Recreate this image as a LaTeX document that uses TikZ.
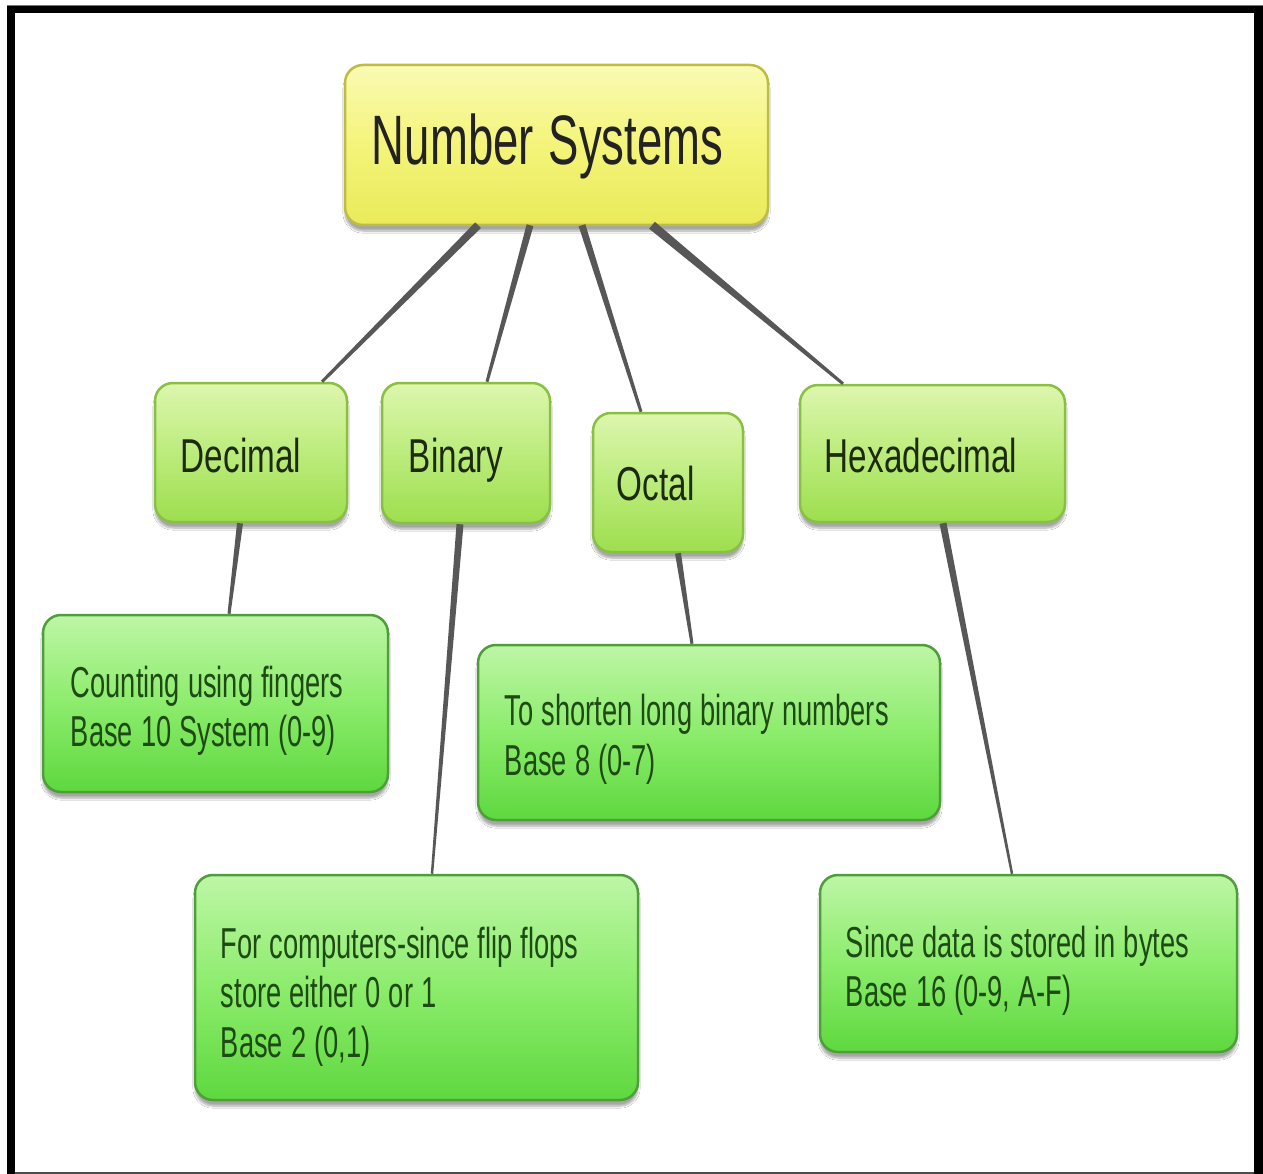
\documentclass[tikz,border=0pt]{standalone}
\usepackage{fontspec}
\setmainfont{Liberation Sans}
\newfontfamily\titlefont[FakeStretch=0.65]{Liberation Sans}
\newfontfamily\catfont[FakeStretch=0.70]{Liberation Sans}
\newfontfamily\descfont[FakeStretch=0.63]{Liberation Sans}
\usetikzlibrary{calc,shadows,shadows.blur}

% interword spacing for the narrow faces
\newcommand\titlegap{\spaceskip=15pt plus 2pt minus 2pt\relax}
\newcommand\descgap{\spaceskip=8pt plus 1pt minus 1pt\relax}

\definecolor{frameblack}{HTML}{000000}
\definecolor{linkgray}{HTML}{575757}
\definecolor{ylwtop}{HTML}{FAFAB4}
\definecolor{ylwmid}{HTML}{F4F47A}
\definecolor{ylwbot}{HTML}{EAEA5A}
\definecolor{ylwedge}{HTML}{BDBD45}
\definecolor{cattop}{HTML}{DDF6AE}
\definecolor{catmid}{HTML}{BCEC7C}
\definecolor{catbot}{HTML}{9EDE4E}
\definecolor{catedge}{HTML}{88C044}
\definecolor{desctop}{HTML}{BEF6A6}
\definecolor{descmid}{HTML}{8CEC6C}
\definecolor{descbot}{HTML}{5ED83E}
\definecolor{descedge}{HTML}{4E9E3A}
\definecolor{titleink}{HTML}{222222}
\definecolor{catink}{HTML}{1C2A10}
\definecolor{descink}{HTML}{1E4A14}

\tikzset{
  boxbase/.style={rectangle, rounded corners=18pt, line width=2.5pt,
    inner sep=0pt,
    blur shadow={shadow xshift=0pt, shadow yshift=-6pt, shadow blur steps=8,
      shadow opacity=35, shadow blur extra rounding=4pt}},
  titlebox/.style={boxbase, draw=ylwedge, top color=ylwtop, bottom color=ylwbot,
    middle color=ylwmid},
  catbox/.style={boxbase, draw=catedge, top color=cattop, bottom color=catbot,
    middle color=catmid},
  descbox/.style={boxbase, draw=descedge, top color=desctop, bottom color=descbot,
    middle color=descmid},
  textbase/.style={anchor=base west, inner sep=0pt, align=left},
  titletext/.style={textbase, text=titleink,
    font=\titlefont\fontsize{70}{80}\selectfont, execute at begin node=\titlegap},
  cattext/.style={textbase, text=catink, font=\catfont\fontsize{47.5}{52}\selectfont},
  desctext/.style={textbase, text=descink, text width=460pt,
    font=\descfont\fontsize{43.3}{49.5}\selectfont, execute at begin node=\descgap},
  linkfill/.style={fill=linkgray},
}

% tapered link between two named points: start, end, half width at start, half width at end
\newcommand\linkbar[4]{%
  \fill[linkfill] ($(#1)!#3!90:(#2)$) -- ($(#1)!#3!-90:(#2)$)
    -- ($(#2)!#4!90:(#1)$) -- ($(#2)!#4!-90:(#1)$) -- cycle;}

\begin{document}
\begin{tikzpicture}[x=1pt, y=-1pt]
  \useasboundingbox (0,0) rectangle (1263,1174);
  \fill[white] (0,0) rectangle (1263,1174);

  % frame
  \draw[black!55, line width=1pt] (7,5.5) -- (1263,5.5);
  \draw[frameblack, line width=7.5pt] (7,9.5) -- (1263,9.5);
  \draw[frameblack, line width=8pt] (11,6) -- (11,1174);
  \draw[frameblack, line width=9pt] (1258.5,6) -- (1258.5,1174);
  \draw[black!70, line width=1.5pt] (15,1173) -- (1254,1173);

  % boxes
  \node[titlebox, minimum width=423pt, minimum height=160pt] (ns) at (556.5,145) {};
  \node[catbox, minimum width=192pt, minimum height=139pt] (dec) at (251,452.5) {};
  \node[catbox, minimum width=168pt, minimum height=140pt] (bin) at (466,453) {};
  \node[catbox, minimum width=150pt, minimum height=139pt] (oct) at (668,482.5) {};
  \node[catbox, minimum width=265pt, minimum height=137pt] (hex) at (932.5,453.5) {};
  \node[descbox, minimum width=345pt, minimum height=177pt] (decd) at (215.5,703.5) {};
  \node[descbox, minimum width=462pt, minimum height=175pt] (octd) at (709,732.5) {};
  \node[descbox, minimum width=443pt, minimum height=225pt] (bind) at (416.5,987.5) {};
  \node[descbox, minimum width=417pt, minimum height=177pt] (hexd) at (1028.5,963.5) {};

  % box texts
  \node[titletext] (nsT) at ([xshift=28pt, yshift=-20pt]ns.west) {Number Systems};
  \node[cattext] (decL) at ([xshift=27pt, yshift=-19.5pt]dec.west) {Decimal};
  \node[cattext] (binL) at ([xshift=28pt, yshift=-19pt]bin.west) {Binary};
  \node[cattext] (octL) at ([xshift=25pt, yshift=-17.5pt]oct.west) {Octal};
  \node[cattext] (hexL) at ([xshift=26pt, yshift=-18.5pt]hex.west) {Hexadecimal};
  \node[desctext] (decdL) at ([xshift=29pt, yshift=6.5pt]decd.west)
    {Counting using fingers\\Base 10 System (0-9)};
  \node[desctext] (octdL) at ([xshift=28pt, yshift=7pt]octd.west)
    {To shorten long binary numbers\\Base 8 (0-7)};
  \node[desctext] (bindL) at ([xshift=27pt, yshift=29.5pt]bind.west)
    {For computers-since flip flops\\store either 0 or 1\\Base 2 (0,1)};
  \node[desctext] (hexdL) at ([xshift=27pt, yshift=6.5pt]hexd.west)
    {Since data is stored in bytes\\Base 16 (0-9, A-F)};

  % attachment points of the links
  \coordinate (nsA) at ([xshift=-78.5pt,yshift=1pt]ns.south);
  \coordinate (nsB) at ([xshift=-26.5pt,yshift=1pt]ns.south);
  \coordinate (nsC) at ([xshift=25.5pt,yshift=1pt]ns.south);
  \coordinate (nsD) at ([xshift=95.5pt,yshift=1pt]ns.south);
  \coordinate (decT) at ([xshift=71pt]dec.north);
  \coordinate (binT) at ([xshift=21pt]bin.north);
  \coordinate (octT) at ([xshift=-27pt]oct.north);
  \coordinate (hexT) at ([xshift=-89.5pt]hex.north);
  \coordinate (decB) at ([xshift=-11pt]dec.south);
  \coordinate (binB) at ([xshift=-6pt]bin.south);
  \coordinate (octB) at ([xshift=10pt]oct.south);
  \coordinate (hexB) at ([xshift=10.5pt]hex.south);
  \coordinate (decdT) at ([xshift=13.5pt]decd.north);
  \coordinate (bindT) at ([xshift=15.5pt]bind.north);
  \coordinate (octdT) at ([xshift=-17pt]octd.north);
  \coordinate (hexdT) at ([xshift=-16.5pt]hexd.north);

  % links
  \linkbar{nsA}{decT}{4pt}{1.5pt}
  \linkbar{nsB}{binT}{3.5pt}{1.5pt}
  \linkbar{nsC}{octT}{3.5pt}{1.5pt}
  \linkbar{nsD}{hexT}{4.5pt}{1.5pt}
  \linkbar{decB}{decdT}{3pt}{1.5pt}
  \linkbar{binB}{bindT}{3.5pt}{1.2pt}
  \linkbar{octB}{octdT}{3pt}{1.5pt}
  \linkbar{hexB}{hexdT}{3.5pt}{1.2pt}
\end{tikzpicture}
\end{document}
